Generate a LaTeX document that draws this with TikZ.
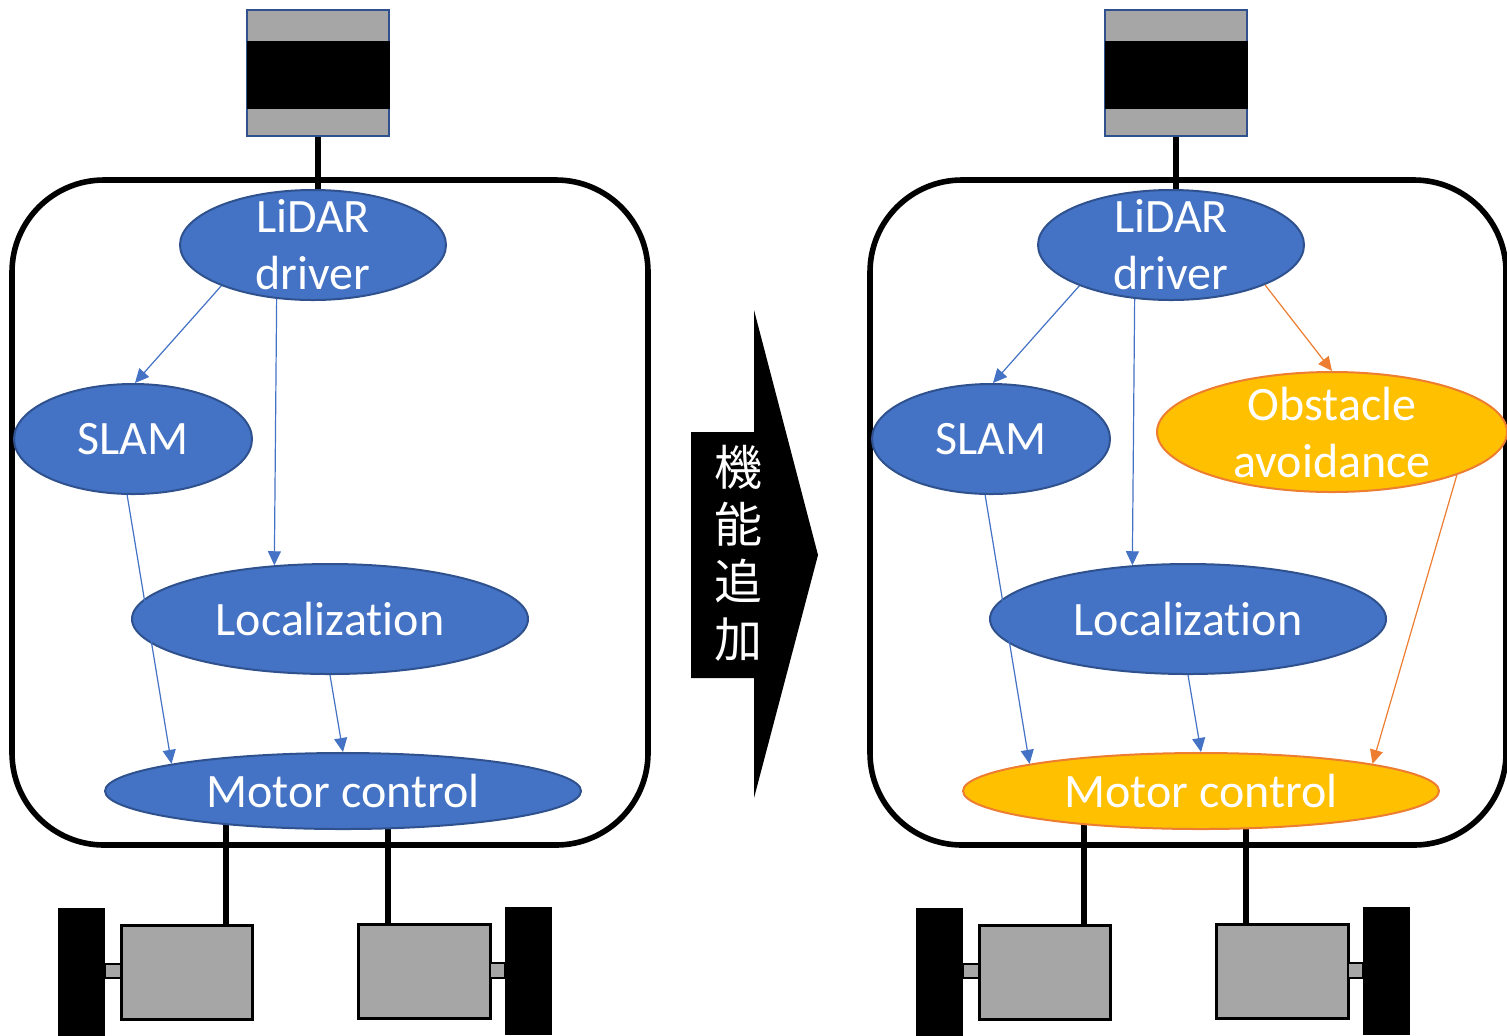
\documentclass[tikz,border=0pt]{standalone}
\usepackage{fontspec}
\setmainfont{Carlito}[Ligatures=NoCommon]
\newfontfamily\cjkfont{Noto Sans CJK JP}
\usetikzlibrary{arrows.meta,backgrounds,calc,shapes.geometric}
\definecolor{nodeblue}{HTML}{4472C4}
\definecolor{edgeblue}{HTML}{2F528F}
\definecolor{nodeyellow}{HTML}{FFC000}
\definecolor{edgeorange}{HTML}{ED7D31}
\definecolor{partgray}{HTML}{A6A6A6}

\tikzset{
  proc/.style={ellipse, draw=edgeblue, fill=nodeblue, line width=1pt, inner sep=0pt},
  newproc/.style={ellipse, draw=edgeorange, fill=nodeyellow, line width=1pt, inner sep=0pt},
  ptext/.style={text=white, font=\fontsize{24}{28.5}\selectfont, align=center},
  dataflow/.style={draw=nodeblue, line width=0.6pt, -{Triangle[length=7pt,width=6.5pt]}},
  newflow/.style={dataflow, draw=edgeorange},
  robotframe/.style={rectangle, draw=black, line width=2.8pt, rounded corners=46pt,
    minimum width=318pt, minimum height=332.5pt, inner sep=0pt},
  wire/.style={draw=black, line width=3pt},
  lidarbox/.style={rectangle, draw=edgeblue, fill=partgray, line width=1pt,
    minimum width=71pt, minimum height=63pt, inner sep=0pt},
  lidarband/.style={rectangle, fill=black, minimum width=71.5pt, minimum height=34pt, inner sep=0pt},
  motorbox/.style={rectangle, draw=black, fill=partgray, line width=1.5pt,
    minimum width=65.5pt, minimum height=47pt, inner sep=0pt},
  axle/.style={rectangle, draw=black, fill=partgray, line width=1pt,
    minimum width=8pt, minimum height=7pt, inner sep=0pt},
  wheel/.style={rectangle, fill=black, minimum width=23.5pt, minimum height=64pt, inner sep=0pt},
}

\begin{document}
\begin{tikzpicture}[x=0.5pt,y=-0.5pt]
\useasboundingbox (0,0) rectangle (1507,1035);

% ---------------- robot before ----------------
\node[robotframe] (bodyL) at (330,512.5) {};
\node[lidarbox] (lidarhwL) at (318,73) {};
\node[lidarband] (lidarbandL) at (318,75) {};

\node[proc, minimum width=133pt, minimum height=55pt,
  label={[ptext]center:LiDAR\\driver}] (lidarL) at (313,245) {};
\node[proc, minimum width=119pt, minimum height=55pt,
  label={[ptext]center:SLAM}] (slamL) at (133,439) {};
\node[proc, minimum width=198pt, minimum height=55pt,
  label={[ptext]center:Localization}] (locL) at (330,619) {};
\node[proc, minimum width=238pt, minimum height=38pt,
  label={[ptext]center:Motor control}] (motorL) at (343,791) {};

\node[motorbox] (mboxL1) at (186.5,972) {};
\node[axle] (axleL1) at (113,971) {};
\node[wheel] (wheelL1) at (81.5,971.5) {};
\node[motorbox, minimum width=66pt] (mboxL2) at (424,971) {};
\node[axle, minimum width=7.5pt, minimum height=7.5pt] (axleL2) at (497.5,970.5) {};
\node[wheel] (wheelL2) at (528.5,971) {};

\coordinate (wL1) at ($(mboxL1.north west)!0.795!(mboxL1.north east)$);
\coordinate (wL2) at ($(mboxL2.north west)!0.235!(mboxL2.north east)$);

\draw[dataflow] (lidarL.204) -- (slamL.88);
\draw[dataflow] (lidarL.236) -- (locL.136);
\draw[dataflow] (slamL.264) -- (motorL.171);
\draw[dataflow] (locL.south) -- (motorL.north);

% ---------------- transition arrow ----------------
\fill[black] (691,432) -- (754,432) -- (754,310) -- (818,555) -- (754,798)
  -- (754,678) -- (691,678) -- cycle;
\node[text=white, font=\cjkfont\fontsize{24}{28.7}\selectfont, align=center,
  inner sep=0pt] (addlabel) at (738,553) {機\\能\\追\\加};

% ---------------- robot after ----------------
\node[robotframe] (bodyR) at (1188,512.5) {};
\node[lidarbox] (lidarhwR) at (1176,73) {};
\node[lidarband] (lidarbandR) at (1176,75) {};

\node[proc, minimum width=133pt, minimum height=55pt,
  label={[ptext]center:LiDAR\\driver}] (lidarR) at (1171,245) {};
\node[proc, minimum width=119pt, minimum height=55pt,
  label={[ptext]center:SLAM}] (slamR) at (991,439) {};
\node[newproc, minimum width=175pt, minimum height=60pt,
  label={[ptext]center:Obstacle\\avoidance}] (obsR) at (1332,432) {};
\node[proc, minimum width=198pt, minimum height=55pt,
  label={[ptext]center:Localization}] (locR) at (1188,619) {};
\node[newproc, minimum width=238pt, minimum height=38pt,
  label={[ptext]center:Motor control}] (motorR) at (1201,791) {};

\node[motorbox] (mboxR1) at (1044.5,972) {};
\node[axle] (axleR1) at (971,971) {};
\node[wheel] (wheelR1) at (939.5,971.5) {};
\node[motorbox, minimum width=66pt] (mboxR2) at (1282,971) {};
\node[axle, minimum width=7.5pt, minimum height=7.5pt] (axleR2) at (1355.5,970.5) {};
\node[wheel] (wheelR2) at (1386.5,971) {};

\coordinate (wR1) at ($(mboxR1.north west)!0.795!(mboxR1.north east)$);
\coordinate (wR2) at ($(mboxR2.north west)!0.235!(mboxR2.north east)$);

\draw[dataflow] (lidarR.204) -- (slamR.88);
\draw[dataflow] (lidarR.236) -- (locR.136);
\draw[newflow] (lidarR.337) -- (obsR.north);
\draw[dataflow] (slamR.264) -- (motorR.171);
\draw[dataflow] (locR.south) -- (motorR.north);
\draw[newflow] (obsR.341) -- (motorR.9);

% cables behind the software blocks
\begin{pgfonlayer}{background}
  \draw[wire] (lidarhwL.south) -- (lidarhwL.south |- lidarL.center);
  \draw[wire] (wL1) -- (wL1 |- motorL.center);
  \draw[wire] (wL2) -- (wL2 |- motorL.center);
  \draw[wire] (lidarhwR.south) -- (lidarhwR.south |- lidarR.center);
  \draw[wire] (wR1) -- (wR1 |- motorR.center);
  \draw[wire] (wR2) -- (wR2 |- motorR.center);
\end{pgfonlayer}
\end{tikzpicture}
\end{document}
